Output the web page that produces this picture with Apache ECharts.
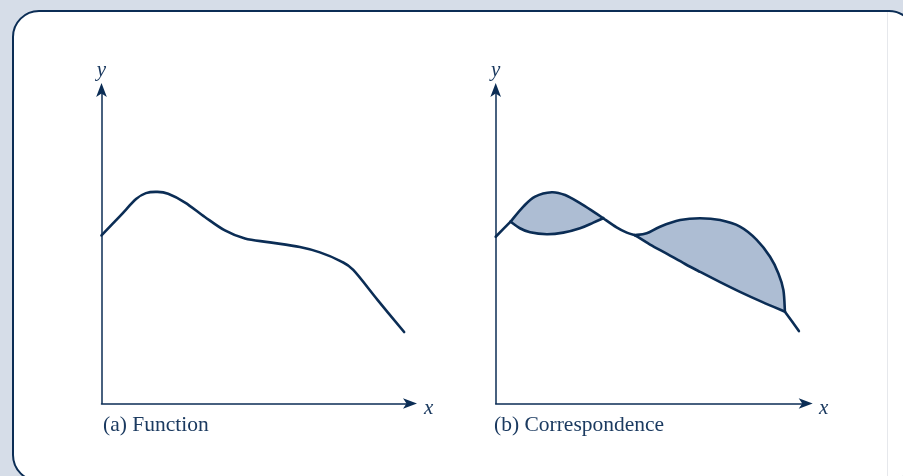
<!DOCTYPE html>
<html>
<head>
<meta charset="utf-8">
<script src="https://cdn.jsdelivr.net/npm/echarts@6/dist/echarts.min.js"></script>
<style>
html,body{margin:0;padding:0;background:#d6dde8;}
#chart{width:903px;height:476px;}
</style>
</head>
<body>
<div id="chart"></div>
<script>
// ---- Data (x, y in axis units 0..10) ----
const captions = ['(a) Function', '(b) Correspondence'];
const axisNames = ['x', 'y'];

// (a) a function: single-valued curve
const curveA = [[0,5.36],[0.60,5.98],[1.12,6.52],[1.44,6.71],[1.80,6.75],[2.16,6.69],[2.71,6.41],[3.35,5.95],[4.00,5.52],[4.65,5.26],[5.46,5.14],[6.43,4.99],[7.08,4.82],[7.73,4.55],[8.16,4.26],[8.96,3.29],[9.81,2.28]];

// (b) a correspondence: pieces of the graph
const startB  = [[0,5.32],[0.48,5.80]];
const upperB1 = [[0.48,5.80],[0.89,6.28],[1.27,6.60],[1.81,6.74],[2.24,6.65],[2.72,6.39],[3.15,6.12],[3.47,5.91]];
const lowerB1 = [[0.48,5.80],[0.78,5.59],[1.11,5.46],[1.65,5.40],[2.18,5.45],[2.72,5.59],[3.15,5.77],[3.47,5.91]];
const middleB = [[3.47,5.91],[3.90,5.62],[4.23,5.45],[4.49,5.37]];
const upperB2 = [[4.49,5.37],[4.87,5.43],[5.30,5.64],[5.95,5.85],[6.59,5.91],[7.24,5.85],[7.88,5.64],[8.42,5.22],[8.85,4.68],[9.12,4.15],[9.28,3.62],[9.33,2.93]];
const lowerB2 = [[4.49,5.37],[4.98,5.07],[5.53,4.77],[6.11,4.45],[6.59,4.20],[7.24,3.87],[7.88,3.56],[8.59,3.24],[9.33,2.93]];
const tailB   = [[9.33,2.93],[9.78,2.31]];

const LINE = '#0b2d55';
const FILL = '#adbdd3';
const TEXT = '#1b3a60';
const SERIF = '"Liberation Serif","DejaVu Serif",serif';

function smoothPath(pts, move) {
  let d = (move ? 'M' : 'L') + pts[0][0] + ',' + pts[0][1];
  for (let i = 0; i < pts.length - 1; i++) {
    const p0 = pts[i - 1] || pts[i], p1 = pts[i], p2 = pts[i + 1], p3 = pts[i + 2] || pts[i + 1];
    const c1 = [p1[0] + (p2[0] - p0[0]) / 6, p1[1] + (p2[1] - p0[1]) / 6];
    const c2 = [p2[0] - (p3[0] - p1[0]) / 6, p2[1] - (p3[1] - p1[1]) / 6];
    d += 'C' + c1[0] + ',' + c1[1] + ' ' + c2[0] + ',' + c2[1] + ' ' + p2[0] + ',' + p2[1];
  }
  return d;
}

function strokeSeries(pts, gi) {
  return {
    type: 'custom', coordinateSystem: 'cartesian2d', xAxisIndex: gi, yAxisIndex: gi,
    data: pts, encode: {x: 0, y: 1}, z: 5, silent: true,
    renderItem: function (params, api) {
      if (params.dataIndex !== 0) return null;
      const px = pts.map(p => api.coord(p));
      return {type: 'path', shape: {pathData: smoothPath(px, true)},
        style: {fill: 'none', stroke: LINE, lineWidth: 2.6, lineCap: 'round', lineJoin: 'round'}};
    }
  };
}
function fillSeries(upper, lower, gi) {
  return {
    type: 'custom', coordinateSystem: 'cartesian2d', xAxisIndex: gi, yAxisIndex: gi,
    data: upper.concat(lower), encode: {x: 0, y: 1}, z: 3, silent: true,
    renderItem: function (params, api) {
      if (params.dataIndex !== 0) return null;
      const u = upper.map(p => api.coord(p));
      const l = lower.map(p => api.coord(p)).reverse();
      return {type: 'path', shape: {pathData: smoothPath(u, true) + smoothPath(l, false) + 'Z'},
        style: {fill: FILL, stroke: 'none'}};
    }
  };
}

function axisCommon(name) {
  return {
    type: 'value', min: 0, max: 10,
    name: name, nameLocation: 'end', nameGap: 9,
    nameTextStyle: {fontFamily: SERIF, fontStyle: 'italic', fontSize: 21, color: TEXT},
    axisLine: {show: true, symbol: ['none', 'arrow'], symbolSize: [8, 14], symbolOffset: [0, 7],
      lineStyle: {color: LINE, width: 1.5}},
    axisTick: {show: false}, axisLabel: {show: false}, splitLine: {show: false}
  };
}

function italicLabel(txt, x, y) {
  return {type: 'text', z: 10, x: x, y: y,
    style: {text: txt, fontFamily: SERIF, fontStyle: 'italic', fontSize: 21, fill: TEXT, align: 'left', verticalAlign: 'middle'}};
}

const chart = echarts.init(document.getElementById('chart'), null, {renderer: 'canvas'});
chart.setOption({
  backgroundColor: '#d6dde8',
  animation: false,
  grid: [
    {left: 101.5, top: 90, width: 308.5, height: 313.5},
    {left: 495.7, top: 90, width: 310, height: 313.5}
  ],
  xAxis: [Object.assign(axisCommon(''), {gridIndex: 0}), Object.assign(axisCommon(''), {gridIndex: 1})],
  yAxis: [Object.assign(axisCommon(axisNames[1]), {gridIndex: 0}), Object.assign(axisCommon(axisNames[1]), {gridIndex: 1})],
  graphic: [
    {type: 'rect', z: -10, shape: {x: 13, y: 11, width: 902, height: 470, r: 26},
      style: {fill: '#ffffff', stroke: LINE, lineWidth: 2}},
    {type: 'line', z: -9, shape: {x1: 887.5, y1: 12, x2: 887.5, y2: 476},
      style: {stroke: '#e6e8ec', lineWidth: 1}},
    italicLabel(axisNames[0], 424, 408),
    italicLabel(axisNames[0], 819, 408),
    {type: 'text', z: 10, x: 103, y: 425, style: {text: captions[0], fontFamily: SERIF, fontSize: 21.5, fill: TEXT, align: 'left', verticalAlign: 'middle'}},
    {type: 'text', z: 10, x: 494, y: 425, style: {text: captions[1], fontFamily: SERIF, fontSize: 21.5, fill: TEXT, align: 'left', verticalAlign: 'middle'}}
  ],
  series: [
    strokeSeries(curveA, 0),
    fillSeries(upperB1, lowerB1, 1),
    fillSeries(upperB2, lowerB2, 1),
    strokeSeries(startB, 1),
    strokeSeries(upperB1, 1),
    strokeSeries(lowerB1, 1),
    strokeSeries(middleB, 1),
    strokeSeries(upperB2, 1),
    strokeSeries(lowerB2, 1),
    strokeSeries(tailB, 1)
  ]
});
</script>
</body>
</html>
